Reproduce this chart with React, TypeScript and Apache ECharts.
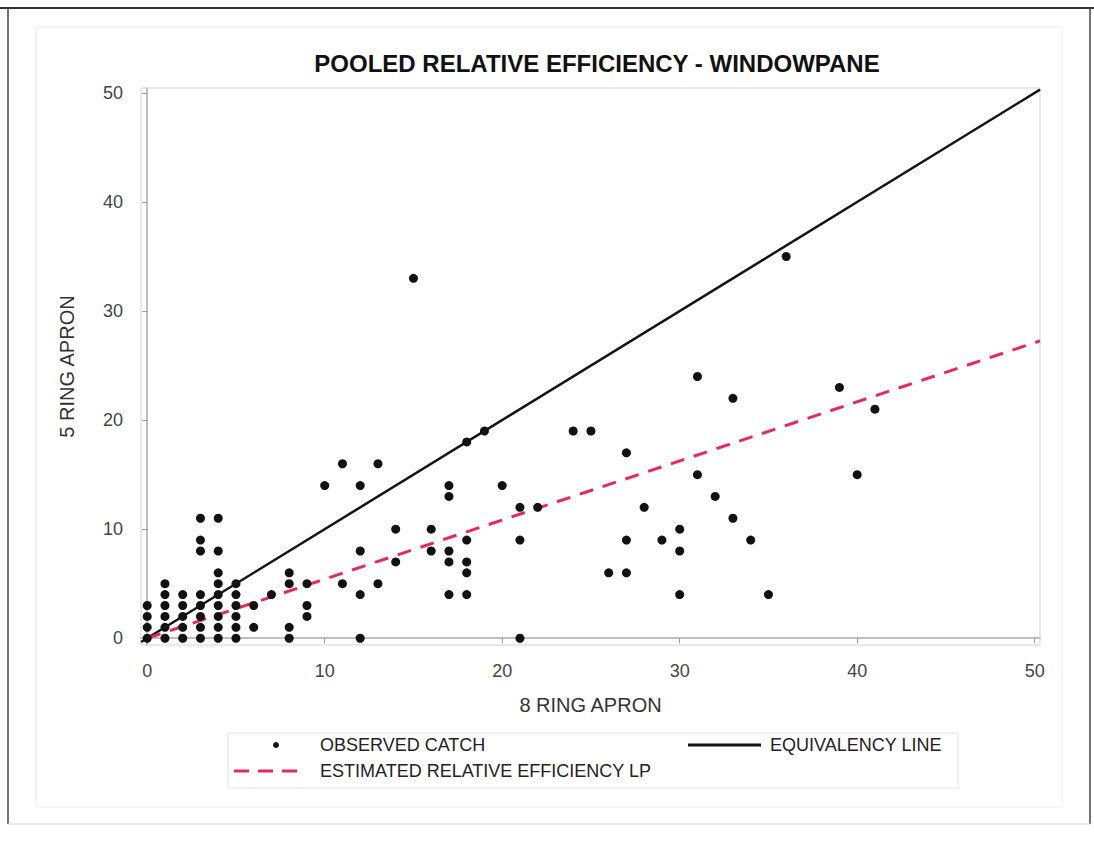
import React, { useEffect, useRef } from "react";
import * as echarts from "echarts";

const TITLE = "POOLED RELATIVE EFFICIENCY - WINDOWPANE";
const X_TITLE = "8 RING APRON";
const Y_TITLE = "5 RING APRON";
const TICKS = [0, 10, 20, 30, 40, 50];

// observed catch: 8 ring apron (x) vs 5 ring apron (y)
const observed8Ring = [
  0, 0, 0, 0,
  1, 1, 1, 1, 1, 1,
  2, 2, 2, 2, 2,
  3, 3, 3, 3, 3, 3, 3, 3,
  4, 4, 4, 4, 4, 4, 4, 4, 4,
  5, 5, 5, 5, 5, 5,
  6, 6, 7,
  8, 8, 8, 8,
  9, 9, 9,
  10, 11, 11,
  12, 12, 12, 12,
  13, 13, 14, 14, 15, 16, 16,
  17, 17, 17, 17, 17,
  18, 18, 18, 18, 18,
  19, 20, 21, 21, 21, 22, 24, 25, 26,
  27, 27, 27, 28, 29, 30, 30, 30,
  31, 31, 32, 33, 33, 34, 35, 36, 39, 40, 41,
];
const observed5Ring = [
  0, 1, 2, 3,
  0, 1, 2, 3, 4, 5,
  0, 1, 2, 3, 4,
  0, 1, 2, 3, 4, 8, 9, 11,
  0, 1, 2, 3, 4, 5, 6, 8, 11,
  0, 1, 2, 3, 4, 5,
  1, 3, 4,
  0, 1, 5, 6,
  2, 3, 5,
  14, 5, 16,
  0, 4, 8, 14,
  5, 16, 7, 10, 33, 8, 10,
  4, 7, 8, 13, 14,
  4, 6, 7, 9, 18,
  19, 14, 0, 9, 12, 12, 19, 19, 6,
  6, 9, 17, 12, 9, 4, 8, 10,
  15, 24, 13, 11, 22, 9, 4, 35, 23, 15, 21,
];

const EQUIVALENCY_SLOPE = 1;
const RELATIVE_EFFICIENCY = 0.542;

const X_MIN = -0.35;
const X_MAX = 50.3;
const Y_MIN = -0.62;
const Y_MAX = 50.45;

const FONT = "'Liberation Sans', Arial, sans-serif";

export default function App() {
  const ref = useRef<HTMLDivElement>(null);

  useEffect(() => {
    if (!ref.current) return;
    const chart = echarts.init(ref.current, null, { renderer: "svg" });

    const scatterData = observed8Ring.map((x, i) => [x, observed5Ring[i]]);
    const equivData = [
      [X_MIN, X_MIN * EQUIVALENCY_SLOPE],
      [X_MAX, X_MAX * EQUIVALENCY_SLOPE],
    ];
    const reData = [
      [0, 0],
      [X_MAX, X_MAX * RELATIVE_EFFICIENCY],
    ];

    const legendText = {
      fontFamily: FONT,
      fontSize: 18,
      fill: "#222",
      verticalAlign: "middle",
    };

    chart.setOption({
      animation: false,
      backgroundColor: "#ffffff",
      title: {
        text: TITLE,
        left: 592,
        top: 46,
        textAlign: "center",
        textStyle: {
          fontFamily: FONT,
          fontSize: 24,
          fontWeight: "bold",
          color: "#111",
        },
      },
      grid: {
        left: 141,
        right: 54,
        top: 88,
        bottom: 197,
        show: true,
        borderColor: "#d4d4d4",
        borderWidth: 1,
      },
      xAxis: {
        type: "value",
        min: X_MIN,
        max: X_MAX,
        name: X_TITLE,
        nameLocation: "middle",
        nameGap: 50,
        nameTextStyle: { fontFamily: FONT, fontSize: 20, color: "#333" },
        axisLine: { show: true, lineStyle: { color: "#aaa", width: 1.5 } },
        axisTick: {
          show: true,
          customValues: TICKS,
          length: 5,
          lineStyle: { color: "#999" },
        },
        axisLabel: {
          customValues: TICKS,
          margin: 17,
          fontFamily: FONT,
          fontSize: 18,
          color: "#444",
        },
        splitLine: { show: false },
      },
      yAxis: {
        type: "value",
        min: Y_MIN,
        max: Y_MAX,
        name: Y_TITLE,
        nameLocation: "middle",
        nameGap: 64,
        nameRotate: 90,
        nameTextStyle: { fontFamily: FONT, fontSize: 20, color: "#333" },
        axisLine: { show: true, lineStyle: { color: "#aaa", width: 1.5 } },
        axisTick: {
          show: true,
          customValues: TICKS,
          length: 5,
          lineStyle: { color: "#999" },
        },
        axisLabel: {
          customValues: TICKS,
          margin: 18,
          fontFamily: FONT,
          fontSize: 18,
          color: "#444",
        },
        splitLine: { show: false },
      },
      series: [
        {
          name: "EQUIVALENCY LINE",
          type: "line",
          data: equivData,
          symbol: "none",
          lineStyle: { color: "#141414", width: 2.5 },
          z: 3,
        },
        {
          name: "ESTIMATED RELATIVE EFFICIENCY LP",
          type: "line",
          data: reData,
          symbol: "none",
          lineStyle: { color: "#e8285a", width: 3, type: [14, 10] },
          z: 3,
        },
        {
          name: "OBSERVED CATCH",
          type: "scatter",
          data: scatterData,
          symbol: "circle",
          symbolSize: 9,
          itemStyle: { color: "#111", opacity: 1 },
          z: 4,
        },
      ],
      graphic: [
        // outer page frame
        { type: "line", shape: { x1: 0, y1: 8, x2: 1094, y2: 8 }, style: { stroke: "#333", lineWidth: 2 } },
        { type: "line", shape: { x1: 8, y1: 8, x2: 8, y2: 824 }, style: { stroke: "#444", lineWidth: 1.5 } },
        { type: "line", shape: { x1: 1090, y1: 8, x2: 1090, y2: 824 }, style: { stroke: "#444", lineWidth: 1.5 } },
        { type: "line", shape: { x1: 8, y1: 824, x2: 1090, y2: 824 }, style: { stroke: "#cfcfcf", lineWidth: 1 } },
        // faint inner frame
        { type: "rect", shape: { x: 36, y: 27, width: 1026, height: 780 }, style: { fill: "none", stroke: "#ececec", lineWidth: 1 } },
        // legend box
        { type: "rect", shape: { x: 228, y: 733, width: 730, height: 55 }, style: { fill: "none", stroke: "#e2e2e2", lineWidth: 1 } },
        { type: "circle", shape: { cx: 276, cy: 745, r: 3 }, style: { fill: "#151515" } },
        { type: "text", x: 320, y: 745, style: { ...legendText, text: "OBSERVED CATCH" } },
        { type: "line", shape: { x1: 688, y1: 745, x2: 761, y2: 745 }, style: { stroke: "#141414", lineWidth: 3 } },
        { type: "text", x: 770, y: 745, style: { ...legendText, text: "EQUIVALENCY LINE" } },
        { type: "line", shape: { x1: 234, y1: 771, x2: 298, y2: 771 }, style: { stroke: "#e8285a", lineWidth: 3, lineDash: [15, 9] } },
        { type: "text", x: 320, y: 771, style: { ...legendText, text: "ESTIMATED RELATIVE EFFICIENCY LP" } },
      ],
    });

    return () => chart.dispose();
  }, []);

  return (
    <div
      ref={ref}
      style={{ position: "absolute", left: 0, top: 0, width: 1094, height: 842 }}
    />
  );
}
